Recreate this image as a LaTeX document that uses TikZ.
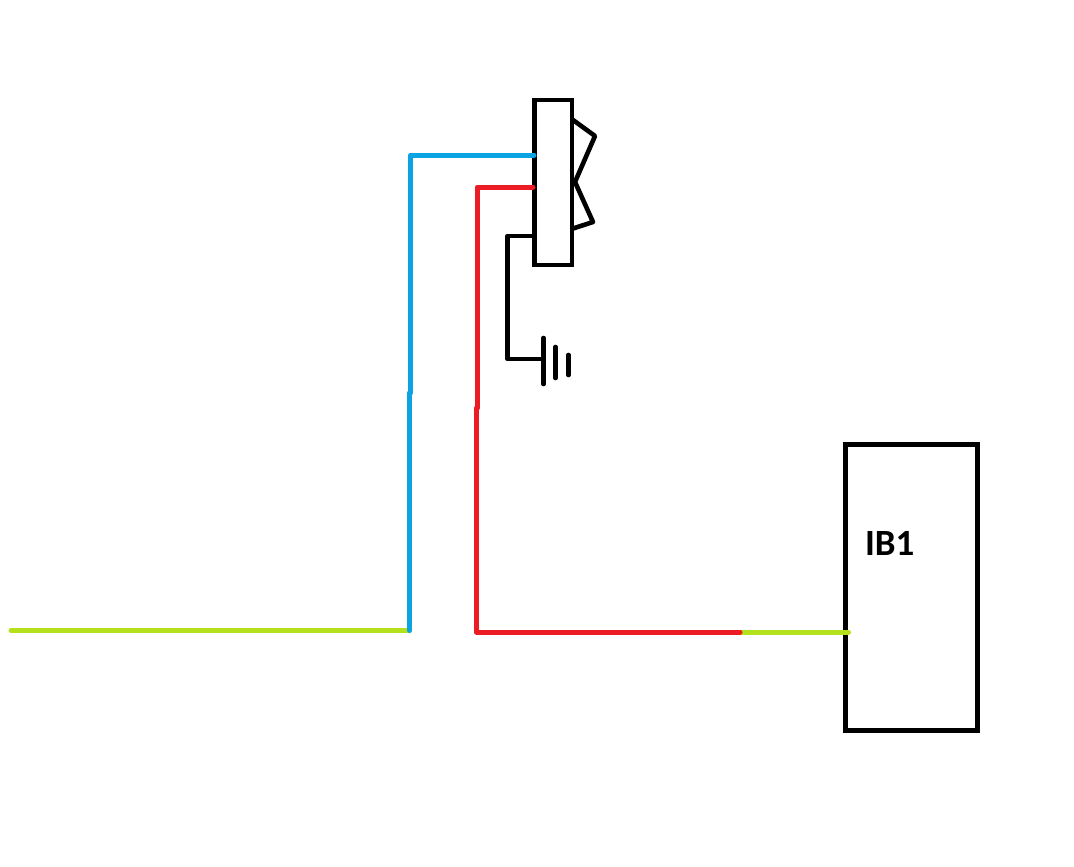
\documentclass[tikz,border=0pt]{standalone}
\usepackage{fontspec}
\setmainfont{Carlito}
\definecolor{wblue}{HTML}{0CA3E2}
\definecolor{wred}{HTML}{EC1C24}
\definecolor{wgreen}{HTML}{B4E01C}
\tikzset{
  boxshape/.style={draw=black,line width=4.6pt,rectangle,inner sep=0pt,outer sep=0pt,fill=white},
  blackwire/.style={draw=black,line width=4.6pt,line cap=round,line join=round},
  bluewire/.style={draw=wblue,line width=5pt,line cap=round,line join=round},
  redwire/.style={draw=wred,line width=5pt,line cap=round,line join=round},
  greenwire/.style={draw=wgreen,line width=5pt,line cap=round},
  blabel/.style={inner sep=0pt,outer sep=0pt,anchor=base west,font=\bfseries\fontsize{37}{40}\selectfont}
}
\begin{document}
\begin{tikzpicture}[x=1pt,y=-1pt]
\useasboundingbox[fill=white] (0,0) rectangle (1074,867);
% boxes
\node[boxshape,minimum width=37.5pt,minimum height=165pt] (sw) at (553.2,182.5) {};
\node[boxshape,minimum width=132pt,minimum height=286pt] (ib) at (911.5,587.5) {};
\node[blabel] (iblabel) at (865,555.5) {IB1};
% switch contacts
\coordinate (c1) at (573,120);
\coordinate (c2) at (595,136);
\coordinate (c3) at (575,182);
\coordinate (c4) at (593,222);
\coordinate (c5) at (573,228.5);
\draw[blackwire] (c1) -- (c2) -- (c3) -- (c4) -- (c5);
% ground
\coordinate (gnd) at (543.5,359);
\coordinate (gndt1) at (543.5,338);
\coordinate (gndb1) at (543.5,384);
\coordinate (gndt2) at (555.5,347);
\coordinate (gndb2) at (555.5,378);
\coordinate (gndt3) at (568.5,355);
\coordinate (gndb3) at (568.5,375);
\coordinate (gsw) at (534.5,236);
\coordinate (gc1) at (507.5,236);
\coordinate (gc2) at (507.5,359);
\draw[blackwire] (gsw) -- (gc1) -- (gc2) -- (gnd);
\draw[blackwire] (gndt1) -- (gndb1);
\draw[blackwire] (gndt2) -- (gndb2);
\draw[blackwire] (gndt3) -- (gndb3);
% green wires
\coordinate (gl) at (11,630.5);
\coordinate (bb) at (409.5,630.5);
\coordinate (gr1) at (740,632);
\coordinate (gr2) at (848.5,632);
\draw[greenwire] (gl) -- (bb);
\draw[greenwire] (gr1) -- (gr2);
% blue wire
\coordinate (bsw) at (534,155);
\coordinate (b1) at (410.5,155);
\coordinate (b2) at (410.5,393);
\coordinate (b3) at (409.5,393);
\draw[bluewire] (bsw) -- (b1) -- (b2);
\draw[bluewire] (b3) -- (bb);
% red wire
\coordinate (rsw) at (533,187);
\coordinate (r1) at (477.5,187);
\coordinate (r2) at (477.5,408);
\coordinate (r3) at (476.5,408);
\coordinate (r4) at (476.5,632);
\draw[redwire] (rsw) -- (r1) -- (r2);
\draw[redwire] (r3) -- (r4) -- (gr1);
\end{tikzpicture}
\end{document}
